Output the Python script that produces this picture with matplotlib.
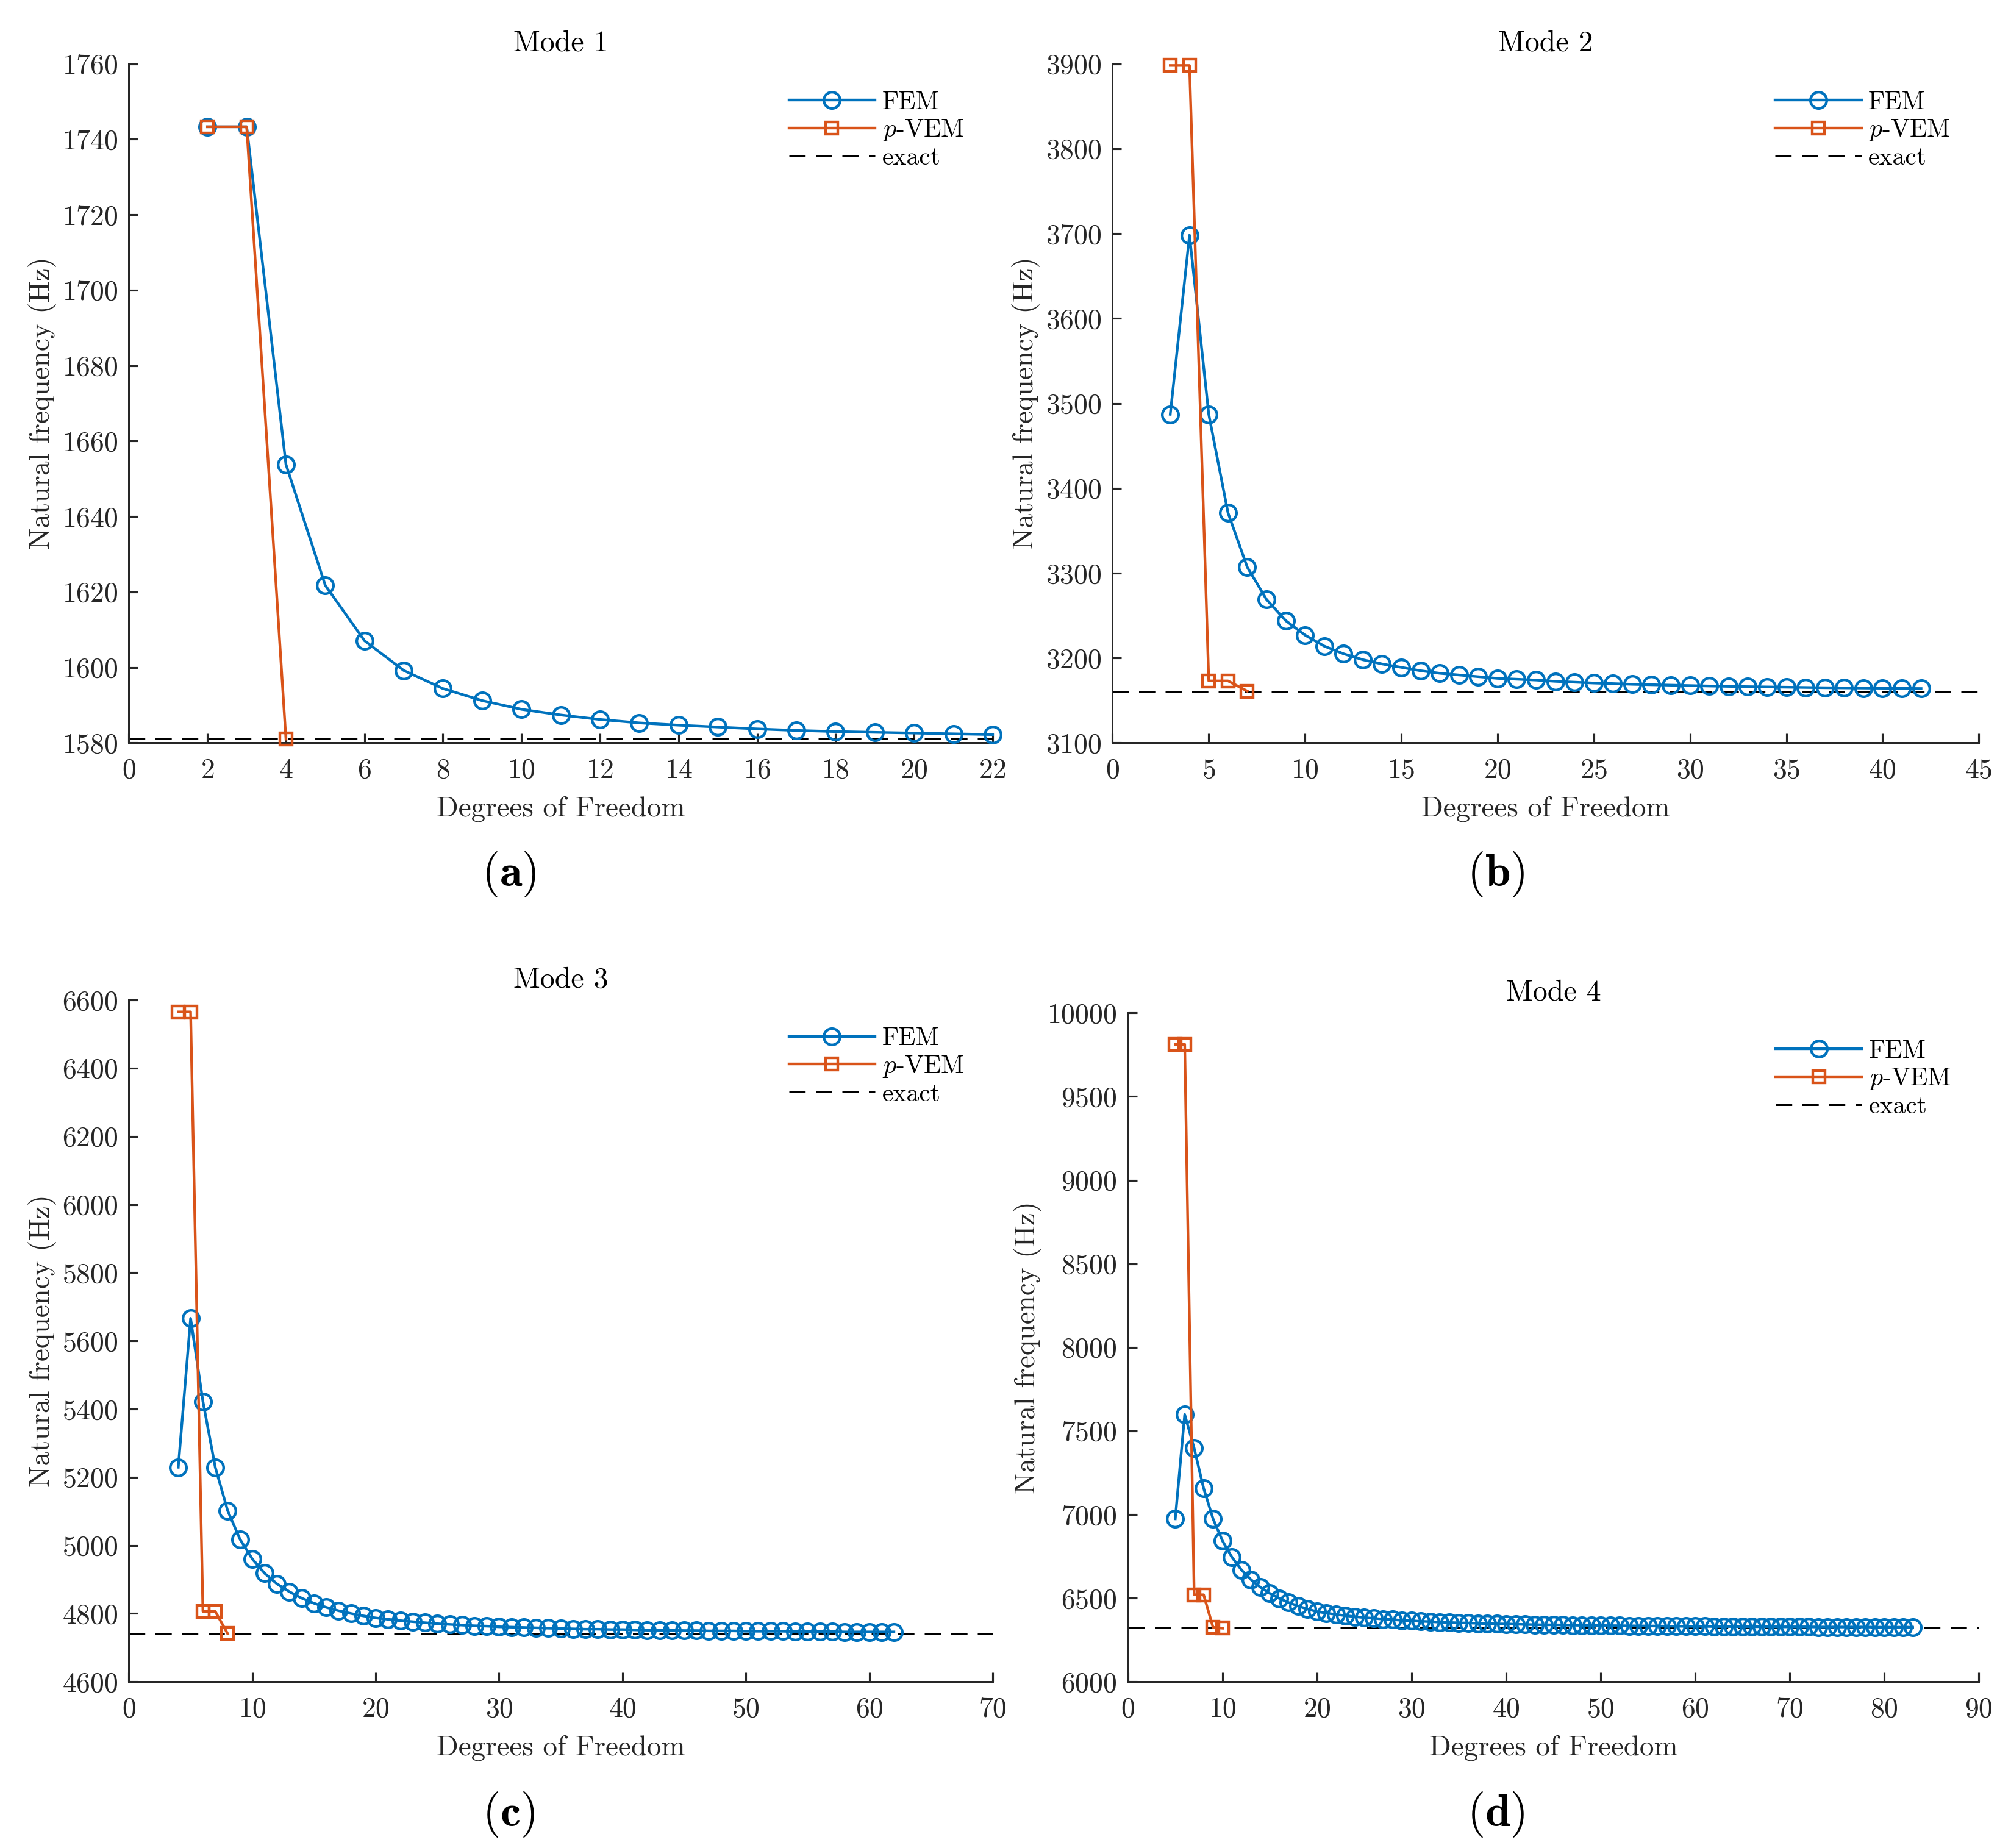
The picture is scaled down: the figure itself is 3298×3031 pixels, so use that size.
import numpy as np
import matplotlib
matplotlib.use("Agg")
import matplotlib.pyplot as plt

# Estilo parecido al de MATLAB con fuentes Computer Modern
plt.rcParams['font.family'] = 'serif'
plt.rcParams['font.serif'] = ['cmr10', 'DejaVu Serif']
plt.rcParams['mathtext.fontset'] = 'cm'
plt.rcParams['axes.formatter.use_mathtext'] = True

AZUL = '#0072BD'
NARANJA = '#D95319'
GRIS = '#262626'

# Modo 1
gdl_fem_1 = list(range(2, 23))
fem_1 = [1743.3, 1743.3, 1653.8, 1621.8, 1607.1, 1599.2, 1594.4, 1591.2, 1588.9,
         1587.4, 1586.2, 1585.3, 1584.7, 1584.2, 1583.7, 1583.3, 1583.0, 1582.8,
         1582.6, 1582.4, 1582.2]
gdl_vem_1 = [2, 3, 4]
vem_1 = [1743.3, 1743.3, 1581.0]
exacta_1 = 1581.0

# Modo 2
gdl_fem_2 = list(range(3, 43))
fem_2 = [3487, 3698, 3487, 3371, 3307, 3269, 3244, 3227, 3214, 3205,
         3198, 3193, 3189, 3185, 3182, 3180, 3178, 3176, 3175, 3174,
         3172.5, 3171.5, 3170.5, 3169.8, 3169, 3168.5, 3168, 3167.5, 3167, 3166.6,
         3166.2, 3165.9, 3165.6, 3165.3, 3165, 3164.8, 3164.6, 3164.4, 3164.2, 3164]
gdl_vem_2 = [3, 4, 5, 6, 7]
vem_2 = [3898, 3898, 3173, 3173, 3161]
exacta_2 = 3161.0

# Modo 3
gdl_fem_3 = list(range(4, 63))
fem_3 = [5229, 5666, 5422, 5229, 5102, 5018, 4960, 4918, 4887, 4864,
         4845, 4830, 4818, 4808, 4800, 4793, 4787, 4783, 4779, 4776,
         4773, 4770, 4768, 4766, 4764, 4763, 4761, 4760, 4759, 4758,
         4757, 4756, 4755, 4754, 4754, 4753, 4753, 4752, 4751, 4751,
         4751, 4750, 4750, 4749, 4749, 4749, 4748, 4748, 4748, 4748,
         4747, 4747, 4747, 4747, 4746, 4746, 4746, 4746, 4746]
gdl_vem_3 = [4, 5, 6, 7, 8]
vem_3 = [6565, 6565, 4806, 4806, 4741]
exacta_3 = 4741.0

# Modo 4
gdl_fem_4 = list(range(5, 84))
fem_4 = [6974, 7598, 7396, 7157, 6974, 6842, 6744, 6669, 6611, 6565,
         6528, 6498, 6473, 6452, 6434, 6419, 6410, 6402, 6395, 6389,
         6383, 6379, 6374, 6371, 6367, 6364, 6361, 6359, 6356, 6354,
         6352, 6351, 6349, 6347, 6346, 6345, 6344, 6342, 6341, 6340,
         6340, 6339, 6338, 6337, 6336, 6336, 6335, 6335, 6334, 6334,
         6333, 6333, 6332, 6332, 6331, 6331, 6331, 6330, 6330, 6330,
         6329, 6329, 6329, 6329, 6328, 6328, 6328, 6328, 6327, 6327,
         6327, 6327, 6327, 6327, 6326, 6326, 6326, 6326, 6326]
gdl_vem_4 = [5, 6, 7, 8, 9, 10]
vem_4 = [9812, 9812, 6520, 6520, 6325, 6320]
exacta_4 = 6320.0

modos = [
    ("Mode 1", gdl_fem_1, fem_1, gdl_vem_1, vem_1, exacta_1, (0, 22), (1580, 1760), 2, 20, "a"),
    ("Mode 2", gdl_fem_2, fem_2, gdl_vem_2, vem_2, exacta_2, (0, 45), (3100, 3900), 5, 100, "b"),
    ("Mode 3", gdl_fem_3, fem_3, gdl_vem_3, vem_3, exacta_3, (0, 70), (4600, 6600), 10, 200, "c"),
    ("Mode 4", gdl_fem_4, fem_4, gdl_vem_4, vem_4, exacta_4, (0, 90), (6000, 10000), 10, 500, "d"),
]

# Posiciones de los ejes [izq, abajo, ancho, alto] en fracción de figura
posiciones = [
    [0.0641, 0.598, 0.4295, 0.3675],
    [0.5532, 0.598, 0.4308, 0.3675],
    [0.0641, 0.090, 0.4295, 0.3689],
    [0.5609, 0.090, 0.4231, 0.3619],
]
etiquetas_xy = [(0.253, 0.527), (0.744, 0.527), (0.253, 0.018), (0.744, 0.018)]

fig = plt.figure(figsize=(3298 / 300, 3031 / 300), dpi=300)

for (titulo, xf, yf, xv, yv, ex, xlim, ylim, dx, dy, letra), pos, lxy in zip(modos, posiciones, etiquetas_xy):
    ax = fig.add_axes(pos)
    ax.plot(xf, yf, '-o', color=AZUL, lw=1.05, ms=6.4, mew=1.05, mfc='none',
            label='FEM', clip_on=False, zorder=3)
    ax.plot(xv, yv, '-s', color=NARANJA, lw=1.05, ms=4.8, mew=1.05, mfc='none',
            label=r'$p$-VEM', clip_on=False, zorder=4)
    ax.axhline(ex, color='k', lw=0.72, ls=(0, (8.9, 5.6)), label='exact', zorder=2)
    ax.set_xlim(*xlim)
    ax.set_ylim(*ylim)
    ax.set_xticks(np.arange(xlim[0], xlim[1] + dx / 2, dx))
    ax.set_yticks(np.arange(ylim[0], ylim[1] + dy / 2, dy))
    for lado in ['top', 'right']:
        ax.spines[lado].set_visible(False)
    for lado in ['left', 'bottom']:
        ax.spines[lado].set_linewidth(0.72)
        ax.spines[lado].set_color(GRIS)
    ax.tick_params(direction='in', length=3.6, width=0.75, color=GRIS,
                   labelcolor=GRIS, labelsize=11)
    ax.tick_params(axis='x', pad=6)
    ax.tick_params(axis='y', pad=4.3)
    ax.set_xlabel("Degrees of Freedom", fontsize=11.3, color=GRIS, labelpad=5)
    ax.set_ylabel("Natural frequency (Hz)", fontsize=11.3, color=GRIS, labelpad=2)
    ax.set_title(titulo, fontsize=11.5, pad=5)
    ax.legend(loc='upper right', bbox_to_anchor=(0.967, 0.96), frameon=False,
              fontsize=10, handlelength=3.4, handletextpad=0.27,
              labelspacing=0.16, borderpad=0, borderaxespad=0)
    fig.text(lxy[0], lxy[1], r'$\mathbf{(%s)}$' % letra, fontsize=18,
             ha='center', va='center')

fig.savefig("out.png", dpi=300)
